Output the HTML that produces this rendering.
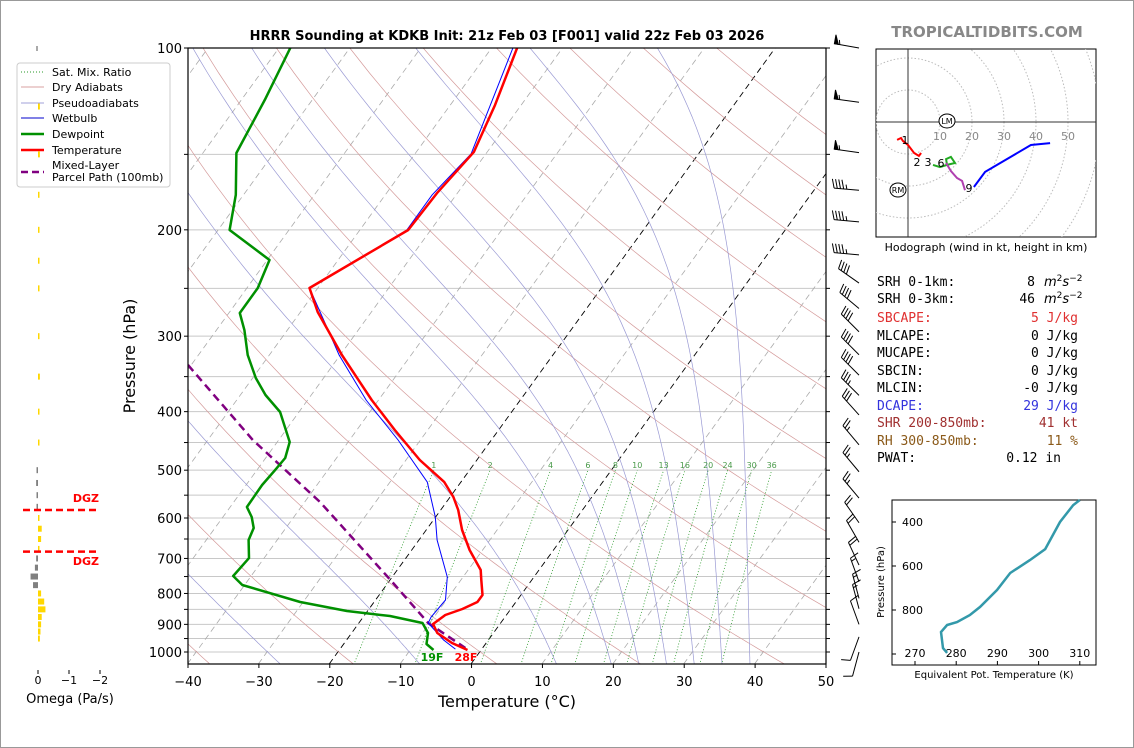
<!DOCTYPE html>
<html><head><meta charset="utf-8"><style>
body{margin:0;background:#fff}
svg{display:block;font-family:"DejaVu Sans","Liberation Sans",sans-serif}
</style></head><body>
<svg id="s" width="1134" height="748" viewBox="0 0 1134 748" xmlns="http://www.w3.org/2000/svg">
<rect x="0.5" y="0.5" width="1133" height="747" fill="#fff" stroke="#999"/>
<g id="bg"></g>
<g id="fg"></g>
<g id="ax"></g>
<text x="507" y="40" text-anchor="middle" font-size="13" font-weight="bold">HRRR Sounding at KDKB Init: 21z Feb 03 [F001] valid 22z Feb 03 2026</text>
<text x="987" y="37" text-anchor="middle" font-size="15" font-weight="bold" fill="#888">TROPICALTIDBITS.COM</text>
<text x="507" y="707" text-anchor="middle" font-size="16">Temperature (°C)</text>
<text transform="translate(135,356) rotate(-90)" text-anchor="middle" font-size="16">Pressure (hPa)</text>
<g id="legend">
<rect x="17" y="63" width="153" height="124" rx="3" fill="#fff" fill-opacity="0.85" stroke="#ccc"/>
<line x1="21" y1="72" x2="44" y2="72" stroke="#2a9a2a" stroke-dasharray="1,2"/>
<text x="52" y="76" font-size="11">Sat. Mix. Ratio</text>
<line x1="21" y1="87" x2="44" y2="87" stroke="#d9a0a0"/>
<text x="52" y="91" font-size="11">Dry Adiabats</text>
<line x1="21" y1="103" x2="44" y2="103" stroke="#a0a0d9"/>
<text x="52" y="107" font-size="11">Pseudoadiabats</text>
<line x1="21" y1="118" x2="44" y2="118" stroke="#0000cc"/>
<text x="52" y="122" font-size="11">Wetbulb</text>
<line x1="21" y1="134" x2="44" y2="134" stroke="#009000" stroke-width="2.5"/>
<text x="52" y="138" font-size="11">Dewpoint</text>
<line x1="21" y1="150" x2="44" y2="150" stroke="#ff0000" stroke-width="2.5"/>
<text x="52" y="154" font-size="11">Temperature</text>
<line x1="21" y1="172" x2="44" y2="172" stroke="#800080" stroke-width="2.5" stroke-dasharray="7,4"/>
<text x="52" y="169" font-size="11">Mixed-Layer</text>
<text x="52" y="181" font-size="11">Parcel Path (100mb)</text>
</g>
<g id="omega"></g>
<g id="hodo"></g>
<g id="stats" font-family="'DejaVu Sans Mono','Liberation Mono',monospace" font-size="13"></g>
<g id="inset"></g>
</svg>
<script>
// ---------- data ----------
const tempP = [100,124.3,148.7,173.9,200.1,249.7,273.6,322.3,382.7,429,481,523.2,553.8,581.9,628.1,677.9,731.6,759.9,804.6,826.4,848.7,868.4,898.7,930.1,966.2,992.4];
const tempT = [-56.4,-53.7,-51.9,-52.9,-53.2,-61.2,-57.6,-49.8,-41.0,-34.7,-28.1,-22.4,-19.6,-17.6,-15.0,-11.9,-8.3,-7.2,-5.5,-5.5,-6.9,-8.7,-9.5,-8.0,-4.9,-2.0];
const dewP = [100,121.9,149.2,175.1,200.1,224.4,249.7,274.6,293.1,322.3,351.9,375.4,400.6,449.1,477.3,499.5,529.1,575.4,597.8,623.4,652.6,699,748.6,774.7,826.4,855.2,871.8,895.3,930.1,970,992.4];
const dewT = [-88.4,-86.7,-85.3,-81.1,-78.4,-69.7,-68.5,-68.5,-66.1,-63.1,-59.6,-56.5,-52.7,-48.3,-47.3,-47.5,-47.8,-47.7,-46.0,-44.6,-44.1,-42.2,-42.6,-40.4,-30.5,-23.0,-16.4,-11.1,-9.3,-8.4,-6.8];
const wbP = [100,149.7,175.1,200.1,249.7,322.3,382.7,445.7,523.2,597.8,652.6,751.3,820.1,875.2,895.3,955.2,988.9];
const wbT = [-57.0,-52.1,-53.4,-53.4,-61.2,-50.2,-41.8,-33.2,-24.8,-20.1,-17.5,-12.3,-10.2,-10.5,-10.3,-6.4,-3.8];
const parcelP = [334.8,445.7,564.5,759.9,895.3,984.9];
const parcelT = [-70.5,-53.7,-37.9,-20.0,-10.3,-2.5];
const xTicks = [-40,-30,-20,-10,0,10,20,30,40,50];
const pLabels = [100,200,300,400,500,600,700,800,900,1000];
const pGrid = [100,150,200,250,300,350,400,450,500,550,600,650,700,750,800,850,900,950,1000];
const mixRatios = [1,2,4,6,8,10,13,16,20,24,30,36];
const barbP = [100,123,149,172,194,220,245,270,295,322,348,376,405,454,503,556,611,658,718,765,815,848,900,944,1000];
const barbSpd = [55,55,55,45,45,45,40,40,40,40,40,35,30,25,25,25,20,20,20,15,15,15,10,10,10];
const barbDir = [280,278,278,275,275,275,305,310,315,315,315,315,318,320,320,320,325,330,335,340,345,345,340,200,195];
const omegaP = [125,150,175,200,225,250,300,350,400,450,500,525,550,575,600,625,650,675,700,725,750,775,800,825,850,875,900,925,950];
const omegaV = [-0.03,-0.03,-0.02,-0.02,-0.02,-0.01,-0.02,-0.03,-0.01,-0.01,0.02,0.03,0.02,0.01,-0.02,-0.06,-0.05,-0.02,0.03,0.05,0.12,0.08,-0.05,-0.1,-0.12,-0.06,-0.05,-0.04,-0.03];
const hodoRedU=[-3.4,-2.2,-1.6,0,1.9,3.4,4.1], hodoRedV=[-5.6,-5.0,-5.9,-7.2,-9.7,-10.6,-9.7];
const hodoGreenU=[7.8,10,12.2,14.7,13.4,11.9,12.2], hodoGreenV=[-13.4,-14.1,-13.4,-12.8,-10.9,-11.6,-13.4];
const hodoMagU=[11.9,13.4,15.3,16.9,17.8], hodoMagV=[-12.8,-15.3,-17.5,-18.4,-21.3];
const hodoBlueU=[20.6,24.1,38.4,44.4], hodoBlueV=[-20.3,-15.6,-7.2,-6.6];
const thetaP=[300,323,400,523,573,632,709,786,823,855,868,900,973,995];
const thetaE=[310.0,308.4,305.2,301.6,297.9,293.1,289.9,285.8,283.3,280.2,277.8,276.3,276.8,277.8];

// ---------- helpers ----------
const NS='http://www.w3.org/2000/svg';
function mk(parent,tag,attrs){const e=document.createElementNS(NS,tag);for(const k in attrs)e.setAttribute(k,attrs[k]);parent.appendChild(e);return e;}
const L=188,R=826,T0=48,B=664,SC=(R-L)/90,SK=0.723;
function yP(p){return T0+604*Math.log10(p/100);}
function xT(t,p){return L+(t+40)*SC+(B-yP(p))*SK;}
function pathFrom(ps,ts){return ps.map((p,i)=>(i?'L':'M')+xT(ts[i],p).toFixed(1)+','+yP(ps[i]).toFixed(1)).join('');}
const bg=document.getElementById('bg'),fg=document.getElementById('fg'),ax=document.getElementById('ax');
const defs=mk(document.getElementById('s'),'defs',{});
const cp=mk(defs,'clipPath',{id:'clip'});mk(cp,'rect',{x:L,y:T0,width:R-L,height:B-T0});
bg.setAttribute('clip-path','url(#clip)');fg.setAttribute('clip-path','url(#clip)');

pGrid.forEach(p=>{const l=mk(bg,'line',{x1:L,x2:R,y1:yP(p),y2:yP(p),stroke:'#c8c8c8','stroke-width':1});

});
for(let t=-130;t<=50;t+=10){const hl=(t===0||t===-20);const l=mk(bg,'line',{x1:xT(t,1050),y1:B,x2:xT(t,100),y2:T0,stroke:hl?'#000':'#aaa','stroke-width':hl?0.9:0.8,'stroke-dasharray':'6,4'});

}
for(let th=-40;th<=200;th+=20){let d='';for(let p=1050;p>=100;p-=10){const tk=(th+273.15)*Math.pow(p/1000,0.286)-273.15;d+=(d?'L':'M')+xT(tk,p).toFixed(1)+','+yP(p).toFixed(1);}
const e=mk(bg,'path',{d:d,fill:'none',stroke:'#d49a9a','stroke-width':0.7});

}
function es(tc){return 6.112*Math.exp(17.67*tc/(tc+243.5));}
function dTdp(tk,p){const e=es(tk-273.15);const rs=0.622*e/(p-e);const Rd=287,Lv=2.5e6,Cp=1005;return (Rd*tk+Lv*rs)/(p*(Cp+Lv*Lv*rs*0.622/(Rd*tk*tk)));}
[-30,-10,10,18,22,26,30,34,38].forEach(t0=>{let pts=[];let tk=t0+273.15;for(let p=1000;p<=1050;p+=5){pts.unshift([p,tk]);tk+=dTdp(tk,p)*5;}
tk=t0+273.15;for(let p=1000;p>=100;p-=5){pts.push([p,tk]);tk-=dTdp(tk,p)*5;}
const d=pts.map((q,i)=>(i?'L':'M')+xT(q[1]-273.15,q[0]).toFixed(1)+','+yP(q[0]).toFixed(1)).join('');
const e=mk(bg,'path',{d:d,fill:'none',stroke:'#9a9ad4','stroke-width':0.7});

});
mixRatios.forEach(w=>{let d='';for(let p=1050;p>=500;p-=10){const e=w*p/(622+w);const ln=Math.log(e/6.112);const td=243.5*ln/(17.67-ln);d+=(d?'L':'M')+xT(td,p).toFixed(1)+','+yP(p).toFixed(1);}
const e=mk(bg,'path',{d:d,fill:'none',stroke:'#2a9a2a','stroke-width':0.8,'stroke-dasharray':'1,2'});


const e5=w*500/(622+w),ln5=Math.log(e5/6.112),td5=243.5*ln5/(17.67-ln5);
const t=mk(bg,'text',{x:xT(td5,500),y:yP(500)-2,'font-size':8,fill:'#4a9a4a','text-anchor':'middle'});t.textContent=w;

});

let e;
e=mk(fg,'path',{d:pathFrom(parcelP,parcelT),fill:'none',stroke:'#800080','stroke-width':2.5,'stroke-dasharray':'8,5'});


e=mk(fg,'path',{d:pathFrom(wbP,wbT),fill:'none',stroke:'#0000ff','stroke-width':1});


e=mk(fg,'path',{d:pathFrom(dewP,dewT),fill:'none',stroke:'#009000','stroke-width':2.5,'stroke-linejoin':'round'});


e=mk(fg,'path',{d:pathFrom(tempP,tempT),fill:'none',stroke:'#ff0000','stroke-width':2.5,'stroke-linejoin':'round'});


e=mk(fg,'text',{x:432,y:661,'font-size':11,'font-weight':'bold',fill:'#009000','text-anchor':'middle'});e.textContent='19F';


e=mk(fg,'text',{x:466,y:661,'font-size':11,'font-weight':'bold',fill:'#ff0000','text-anchor':'middle'});e.textContent='28F';



mk(ax,'rect',{x:L,y:T0,width:R-L,height:B-T0,fill:'none',stroke:'#000','stroke-width':1.2});
xTicks.forEach(t=>{const x=L+(t+40)*SC;mk(ax,'line',{x1:x,x2:x,y1:B,y2:B+4,stroke:'#000'});
const tx=mk(ax,'text',{x:x,y:B+22,'font-size':13,'text-anchor':'middle'});tx.textContent=(t<0?'\u2212'+(-t):t);

});
pGrid.forEach(p=>{mk(ax,'line',{x1:L-4,x2:L,y1:yP(p),y2:yP(p),stroke:'#000'});mk(ax,'line',{x1:R,x2:R+4,y1:yP(p),y2:yP(p),stroke:'#000'});});
pLabels.forEach(p=>{const tx=mk(ax,'text',{x:L-6,y:yP(p)+5,'font-size':13,'text-anchor':'end'});tx.textContent=p;

});

// wind barbs
barbP.forEach((p,i)=>{const g=mk(ax,'g',{stroke:'#000','stroke-width':1,fill:'#000'});


const x0=859,y0=yP(p),d=barbDir[i]*Math.PI/180,Ls=25;
const sx=Math.sin(d),sy=-Math.cos(d);
const px_=-sy,py_=sx;
const tipx=x0+sx*Ls,tipy=y0+sy*Ls;
mk(g,'line',{x1:x0,y1:y0,x2:tipx,y2:tipy});
let s=Math.round(barbSpd[i]/5)*5,pos=0;const bl=9,sp=3.2;
while(s>=50){const ax1=tipx-sx*pos,ay1=tipy-sy*pos,ax2=tipx-sx*(pos+4),ay2=tipy-sy*(pos+4);
mk(g,'polygon',{points:`${ax1},${ay1} ${ax1+px_*bl},${ay1+py_*bl} ${ax2},${ay2}`});pos+=5.5;s-=50;}
while(s>=10){const bx=tipx-sx*pos,by=tipy-sy*pos;mk(g,'line',{x1:bx,y1:by,x2:bx+px_*bl+sx*2.5,y2:by+py_*bl+sy*2.5});pos+=sp;s-=10;}
if(s>=5){if(pos===0)pos=sp;const bx=tipx-sx*pos,by=tipy-sy*pos;mk(g,'line',{x1:bx,y1:by,x2:bx+px_*bl/2+sx*1.2,y2:by+py_*bl/2+sy*1.2});}
});

// omega panel
const om=document.getElementById('omega');
const oX0=38,oSc=31;
mk(om,'line',{x1:37,x2:37,y1:46,y2:51,stroke:'#555'});
omegaP.forEach((p,i)=>{const v=omegaV[i];const y=yP(p);const w=Math.max(1.5,Math.abs(v)*oSc*2);const x=v<0?oX0:oX0-w;
const r=mk(om,'rect',{x:x,y:y-3,width:w,height:6,fill:v<0?'#ffd700':'#808080'});

});
[[yP(582),'DGZ',502],[yP(682),'DGZ',565]].forEach((q,k)=>{const l=mk(om,'line',{x1:23,x2:99,y1:q[0],y2:q[0],stroke:'#ff0000','stroke-width':2.5,'stroke-dasharray':'7,4'});


const t=mk(om,'text',{x:99,y:q[2],'font-size':11,'font-weight':'bold',fill:'#ff0000','text-anchor':'end'});t.textContent=q[1];

});
[0,-1,-2].forEach(v=>{const x=oX0-v*oSc;mk(om,'line',{x1:x,x2:x,y1:670,y2:674,stroke:'#000'});
const t=mk(om,'text',{x:x,y:684,'font-size':11,'text-anchor':'middle'});t.textContent=v<0?'\u2212'+(-v):v;

});
e=mk(om,'text',{x:70,y:703,'font-size':13,'text-anchor':'middle'});e.textContent='Omega (Pa/s)';



// hodograph
const ho=document.getElementById('hodo');
const hx0=908,hy0=122,hs=3.2;
const hc=mk(defs,'clipPath',{id:'hclip'});mk(hc,'rect',{x:876,y:49,width:220,height:188});
mk(ho,'rect',{x:876,y:49,width:220,height:188,fill:'#fff',stroke:'#000'});
const hg=mk(ho,'g',{'clip-path':'url(#hclip)'});
for(let r=10;r<=80;r+=10)mk(hg,'circle',{cx:hx0,cy:hy0,r:r*hs,fill:'none',stroke:'#bbb','stroke-dasharray':'1.5,2'});
mk(hg,'line',{x1:876,x2:1096,y1:hy0,y2:hy0,stroke:'#333'});mk(hg,'line',{x1:hx0,x2:hx0,y1:49,y2:237,stroke:'#333'});
[10,20,30,40,50].forEach(v=>{const t=mk(hg,'text',{x:hx0+v*hs,y:hy0+18,'font-size':11,fill:'#888','text-anchor':'middle'});t.textContent=v;});
function hpath(us,vs){return us.map((u,i)=>(i?'L':'M')+(hx0+u*hs).toFixed(1)+','+(hy0-vs[i]*hs).toFixed(1)).join('');}
[[hodoRedU,hodoRedV,'#ff0000','hodo-0-3km'],[hodoGreenU,hodoGreenV,'#22aa22','hodo-3-6km'],[hodoMagU,hodoMagV,'#b040b0','hodo-6-9km'],[hodoBlueU,hodoBlueV,'#0000ff','hodo-9km-plus']].forEach(q=>{
const pth=mk(hg,'path',{d:hpath(q[0],q[1]),fill:'none',stroke:q[2],'stroke-width':2});

});
[['1',905,144],['2',917,166],['3',928,166],['6',941,167],['9',969,192]].forEach(q=>{const t=mk(hg,'text',{x:q[1],y:q[2],'font-size':11,'text-anchor':'middle'});t.textContent=q[0];

});
[['LM',947,121],['RM',898,190]].forEach(q=>{mk(hg,'ellipse',{cx:q[1],cy:q[2],rx:8,ry:7,fill:'#fff',stroke:'#000'});const t=mk(hg,'text',{x:q[1],y:q[2]+3,'font-size':8,'text-anchor':'middle'});t.textContent=q[0];

});
e=mk(ho,'text',{x:986,y:251,'font-size':11,'text-anchor':'middle'});e.textContent='Hodograph (wind in kt, height in km)';



// stats
const st=document.getElementById('stats');
const rows=[['SRH 0-1km:','8','#000',true],['SRH 0-3km:','46','#000',true],['SBCAPE:','5 J/kg','#e03030'],['MLCAPE:','0 J/kg','#000'],['MUCAPE:','0 J/kg','#000'],['SBCIN:','0 J/kg','#000'],['MLCIN:','-0 J/kg','#000'],['DCAPE:','29 J/kg','#3333dd'],['SHR 200-850mb:','41 kt','#a03030'],['RH 300-850mb:','11 %','#8b5a1a'],['PWAT:','0.12 in','#000']];
const ry=[286,303,322,340,357,375,392,410,427,445,462];
rows.forEach((r,i)=>{const a=mk(st,'text',{x:877,y:ry[i],fill:r[2]});a.textContent=r[0];


if(r[3]){const b=mk(st,'text',{x:1035,y:ry[i],fill:r[2],'text-anchor':'end'});b.textContent=r[1];


const u=mk(st,'text',{x:1044,y:ry[i],'font-family':'DejaVu Sans','font-style':'italic'});u.innerHTML='m<tspan dy="-5" font-size="9" font-style="normal">2</tspan><tspan dy="5">s</tspan><tspan dy="-5" font-size="9" font-style="normal">\u22122</tspan>';}
else{const b=mk(st,'text',{x:1078,y:ry[i],fill:r[2],'text-anchor':'end'});b.textContent=r[1];
if(r[0]==='PWAT:')b.setAttribute('x','1061');

}});

// theta-e inset
const ins=document.getElementById('inset');
function ix(k){return 915+(k-270)*4.12;}function iy(p){return 522+(p-400)*0.22;}
mk(ins,'rect',{x:892,y:500,width:204,height:165,fill:'#fff',stroke:'#000'});
e=mk(ins,'path',{d:thetaP.map((p,i)=>(i?'L':'M')+ix(thetaE[i]).toFixed(1)+','+iy(p).toFixed(1)).join(''),fill:'none',stroke:'#3399aa','stroke-width':2.5});


[270,280,290,300,310].forEach(k=>{mk(ins,'line',{x1:ix(k),x2:ix(k),y1:661,y2:665,stroke:'#000'});const t=mk(ins,'text',{x:ix(k),y:657,'font-size':11,'text-anchor':'middle'});t.textContent=k;

});
[400,600,800,1000].forEach(p=>{mk(ins,'line',{x1:892,x2:896,y1:iy(p),y2:iy(p),stroke:'#000'});if(p<1000){const t=mk(ins,'text',{x:902,y:iy(p)+4,'font-size':11});t.textContent=p;

}});
e=mk(ins,'text',{x:994,y:678,'font-size':10,'text-anchor':'middle'});e.textContent='Equivalent Pot. Temperature (K)';


e=mk(ins,'text',{transform:'translate(884,582) rotate(-90)','font-size':10,'text-anchor':'middle'});e.textContent='Pressure (hPa)';


</script>
</body></html>
